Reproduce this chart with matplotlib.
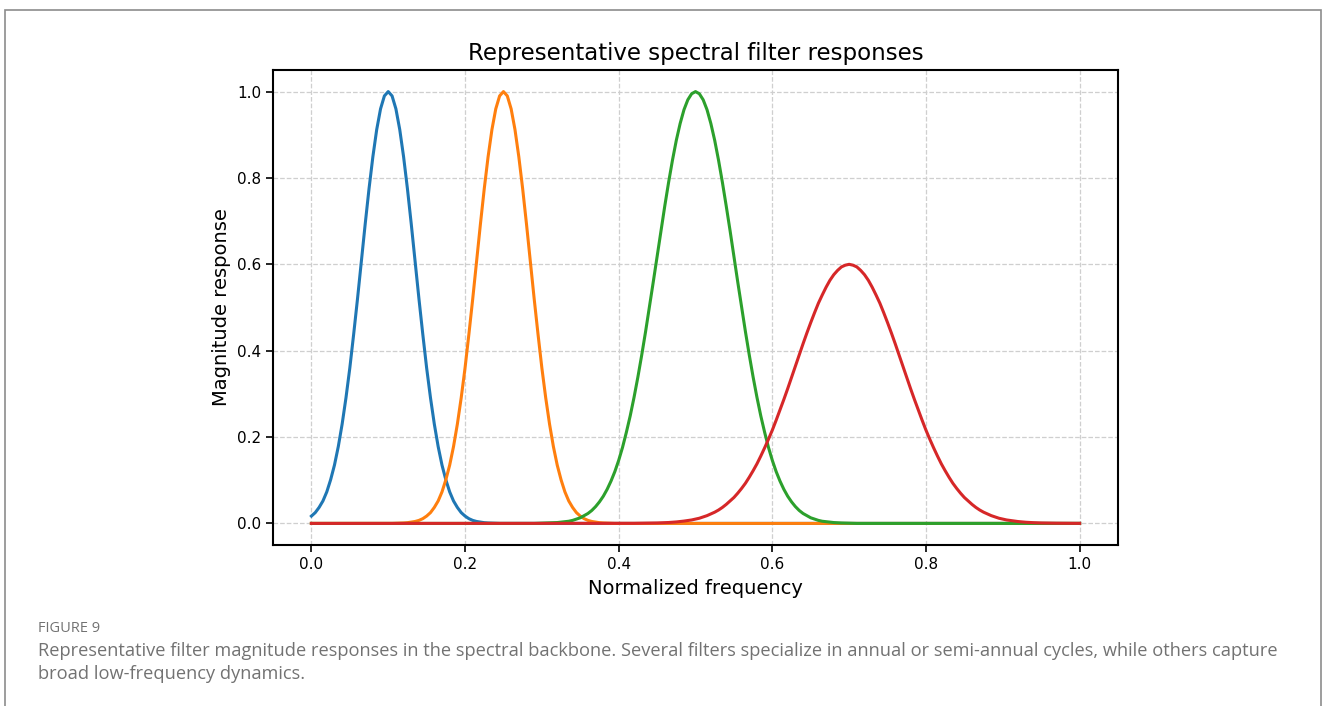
import numpy as np
import matplotlib.pyplot as plt
from matplotlib.patches import Rectangle

freq = np.linspace(0.0, 1.0, 201)

resp_blue = [
    0.017, 0.025, 0.037, 0.052, 0.073, 0.101, 0.135, 0.178, 0.230, 0.291,
    0.360, 0.438, 0.520, 0.607, 0.693, 0.775, 0.849, 0.912, 0.960, 0.990,
    1.000, 0.990, 0.960, 0.912, 0.849, 0.775, 0.693, 0.607, 0.520, 0.438,
    0.360, 0.291, 0.230, 0.178, 0.135, 0.101, 0.073, 0.052, 0.037, 0.025,
    0.017, 0.011, 0.007, 0.0045, 0.003, 0.0017, 0.001, 0.0006, 0.0003,
] + [0.0] * 152

resp_orange = [0.0] * 22 + [
    0.0003, 0.0006, 0.001, 0.0017, 0.003, 0.0045, 0.007, 0.011, 0.017, 0.025,
    0.037, 0.052, 0.073, 0.101, 0.135, 0.178, 0.230, 0.291, 0.360, 0.438,
    0.520, 0.607, 0.693, 0.775, 0.849, 0.912, 0.960, 0.990, 1.000, 0.990,
    0.960, 0.912, 0.849, 0.775, 0.693, 0.607, 0.520, 0.438, 0.360, 0.291,
    0.230, 0.178, 0.135, 0.101, 0.073, 0.052, 0.037, 0.025, 0.017, 0.011,
    0.007, 0.0045, 0.003, 0.0017, 0.001, 0.0006, 0.0003,
] + [0.0] * 122

resp_green = [0.0] * 59 + [
    0.0003, 0.0005, 0.0007, 0.001, 0.0014, 0.002, 0.003, 0.004, 0.005, 0.007,
    0.010, 0.013, 0.018, 0.023, 0.030, 0.039, 0.050, 0.063, 0.079, 0.098,
    0.120, 0.146, 0.176, 0.211, 0.249, 0.292, 0.339, 0.390, 0.444, 0.501,
    0.559, 0.618, 0.678, 0.735, 0.790, 0.841, 0.887, 0.926, 0.958, 0.981,
    0.995, 1.000, 0.995, 0.981, 0.958, 0.926, 0.887, 0.841, 0.790, 0.735,
    0.678, 0.618, 0.559, 0.501, 0.444, 0.390, 0.339, 0.292, 0.249, 0.211,
    0.176, 0.146, 0.120, 0.098, 0.079, 0.063, 0.050, 0.039, 0.030, 0.023,
    0.018, 0.013, 0.010, 0.007, 0.005, 0.004, 0.003, 0.002, 0.0014, 0.001,
    0.0007, 0.0005, 0.0003,
] + [0.0] * 59

resp_red = [0.0] * 80 + [
    0.0001, 0.0001, 0.0001, 0.0002, 0.0002, 0.0003, 0.0004, 0.0005, 0.0006, 0.0008,
    0.0010, 0.0013, 0.0017, 0.0021, 0.0027, 0.0034, 0.0043, 0.0054, 0.0067, 0.008,
    0.010, 0.012, 0.015, 0.018, 0.022, 0.026, 0.031, 0.037, 0.044, 0.052,
    0.060, 0.070, 0.081, 0.093, 0.107, 0.122, 0.138, 0.156, 0.175, 0.195,
    0.216, 0.239, 0.263, 0.287, 0.312, 0.338, 0.364, 0.390, 0.416, 0.441,
    0.465, 0.488, 0.510, 0.529, 0.547, 0.563, 0.576, 0.586, 0.594, 0.598,
    0.600, 0.598, 0.594, 0.586, 0.576, 0.563, 0.547, 0.529, 0.510, 0.488,
    0.465, 0.441, 0.416, 0.390, 0.364, 0.338, 0.312, 0.287, 0.263, 0.239,
    0.216, 0.195, 0.175, 0.156, 0.138, 0.122, 0.107, 0.093, 0.081, 0.070,
    0.060, 0.052, 0.044, 0.037, 0.031, 0.026, 0.022, 0.018, 0.015, 0.012,
    0.010, 0.008, 0.0067, 0.0054, 0.0043, 0.0034, 0.0027, 0.0021, 0.0017, 0.0013,
    0.0010, 0.0008, 0.0006, 0.0005, 0.0004, 0.0003, 0.0002, 0.0002, 0.0001, 0.0001,
    0.0001,
]

SERIES = [
    (resp_blue, "#1f77b4"),
    (resp_orange, "#ff7f0e"),
    (resp_green, "#2ca02c"),
    (resp_red, "#d62728"),
]

TITLE = "Representative spectral filter responses"
XLABEL = "Normalized frequency"
YLABEL = "Magnitude response"
FIG_LABEL = "FIGURE 9"
CAPTION = [
    "Representative filter magnitude responses in the spectral backbone. Several filters "
    "specialize in annual or semi-annual cycles, while others capture",
    "broad low-frequency dynamics.",
]

W, H = 1328, 706
CAPTION_FONT = ["Open Sans", "DejaVu Sans"]


def main():
    plt.rcParams["font.family"] = ["DejaVu Sans"]
    fig = plt.figure(figsize=(W / 100, H / 100), dpi=100)

    # page frame around figure + caption
    fig.add_artist(Rectangle((5 / W, -0.1), (1321 - 5) / W, 1.1 - 10 / H,
                             transform=fig.transFigure, fill=False,
                             edgecolor="#8c8c8c", linewidth=1.2))

    ax = fig.add_axes([273 / W, 1 - 545 / H, (1118 - 273) / W, (545 - 70) / H])

    for vals, color in SERIES:
        assert len(vals) == len(freq)
        ax.plot(freq, vals, color=color, linewidth=2.2)

    ax.set_xlim(-0.05, 1.05)
    ax.set_ylim(-0.05, 1.05)
    ax.set_xticks([0.0, 0.2, 0.4, 0.6, 0.8, 1.0])
    ax.set_yticks([0.0, 0.2, 0.4, 0.6, 0.8, 1.0])
    ax.grid(True, linestyle="--", color="#cfcfcf", linewidth=0.9)
    for sp in ax.spines.values():
        sp.set_linewidth(1.5)
    ax.tick_params(labelsize=11, width=1.2, length=5)

    ax.set_title(TITLE, fontsize=16.5, pad=7)
    ax.set_xlabel(XLABEL, fontsize=14, labelpad=5)
    ax.set_ylabel(YLABEL, fontsize=14, labelpad=4)

    # caption block
    fig.text(38 / W, 1 - 632 / H, FIG_LABEL, fontsize=10.5, color="#727272",
             family=CAPTION_FONT, va="baseline")
    fig.text(38 / W, 1 - 656 / H, CAPTION[0], fontsize=13.15, color="#727272",
             family=CAPTION_FONT, va="baseline")
    fig.text(38 / W, 1 - 679 / H, CAPTION[1], fontsize=13.15, color="#727272",
             family=CAPTION_FONT, va="baseline")

    fig.savefig("out.png", dpi=100)
    plt.close(fig)


if __name__ == "__main__":
    main()
